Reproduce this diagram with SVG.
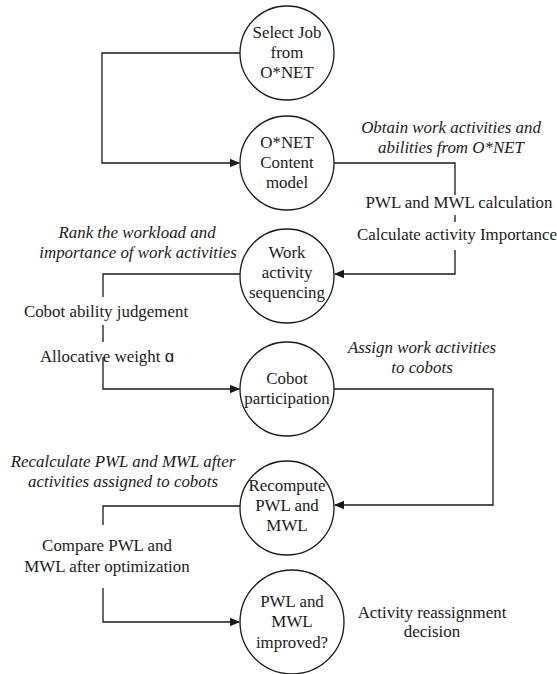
<svg xmlns="http://www.w3.org/2000/svg" width="557" height="674" viewBox="0 0 557 674">
<style>
text{font-family:"Liberation Serif","Times New Roman",serif;font-size:16.9px;fill:#1a1a1a;text-anchor:middle}
.it{font-style:italic}
.n{fill:#fff;stroke:#1a1a1a;stroke-width:1.3}
.c{fill:none;stroke:#1a1a1a;stroke-width:1.3}
.sans{font-family:"Liberation Sans","DejaVu Sans",sans-serif}
</style>
<defs>
<marker id="ah" markerWidth="10" markerHeight="10" refX="9" refY="5" orient="auto" markerUnits="userSpaceOnUse">
<path d="M0,0.8 L10,5 L0,9.2 Z" fill="#1a1a1a"/>
</marker>
</defs>
<g id="connectors">
<path class="c" d="M240,53 H102 V163 H239" marker-end="url(#ah)"/>
<path class="c" d="M334,163 H455 V195 M455,215 V222 M455,250 V274 H335" marker-end="url(#ah)"/>
<path class="c" d="M240,274 H103 V297 M103,325 V342 M103,357 V389 H239" marker-end="url(#ah)"/>
<path class="c" d="M334,389 H493 V505 H335" marker-end="url(#ah)"/>
<path class="c" d="M240,506 H103 V525 M103,588 V622 H239" marker-end="url(#ah)"/>
</g>
<g id="n1"><circle class="n" cx="287" cy="53" r="47"/><text x="287" y="38">Select Job</text><text x="287" y="58">from</text><text x="287" y="78">O*NET</text></g>
<g id="n2"><circle class="n" cx="287" cy="163" r="47"/><text x="287" y="148">O*NET</text><text x="287" y="168">Content</text><text x="287" y="188">model</text></g>
<g id="n3"><circle class="n" cx="287" cy="276" r="47"/><text x="287" y="258">Work</text><text x="287" y="278">activity</text><text x="287" y="298">sequencing</text></g>
<g id="n4"><circle class="n" cx="287" cy="389" r="47"/><text x="287" y="384">Cobot</text><text x="287" y="404">participation</text></g>
<g id="n5"><circle class="n" cx="287" cy="508" r="47"/><text x="287" y="491">Recompute</text><text x="287" y="511">PWL and</text><text x="287" y="531">MWL</text></g>
<g id="n6"><circle class="n" cx="292" cy="622" r="52"/><text x="292" y="607">PWL and</text><text x="292" y="627">MWL</text><text x="292" y="648">improved?</text></g>
<g id="labels">
<text class="it" x="451" y="133">Obtain work activities and</text>
<text class="it" x="451" y="153">abilities from O*NET</text>
<text x="459" y="208">PWL and MWL calculation</text>
<text x="457" y="240">Calculate activity Importance</text>
<text class="it" x="137" y="238">Rank the workload and</text>
<text class="it" x="138" y="258">importance of work activities</text>
<text x="106" y="317">Cobot ability judgement</text>
<text x="107" y="362">Allocative weight <tspan class="sans">ɑ</tspan></text>
<text class="it" x="422" y="353">Assign work activities</text>
<text class="it" x="422" y="373">to cobots</text>
<text class="it" x="123" y="467">Recalculate PWL and MWL after</text>
<text class="it" x="123" y="487">activities assigned to cobots</text>
<text x="107" y="551">Compare PWL and</text>
<text x="107" y="572">MWL after optimization</text>
<text x="432" y="618">Activity reassignment</text>
<text x="432" y="637">decision</text>
</g>
</svg>
